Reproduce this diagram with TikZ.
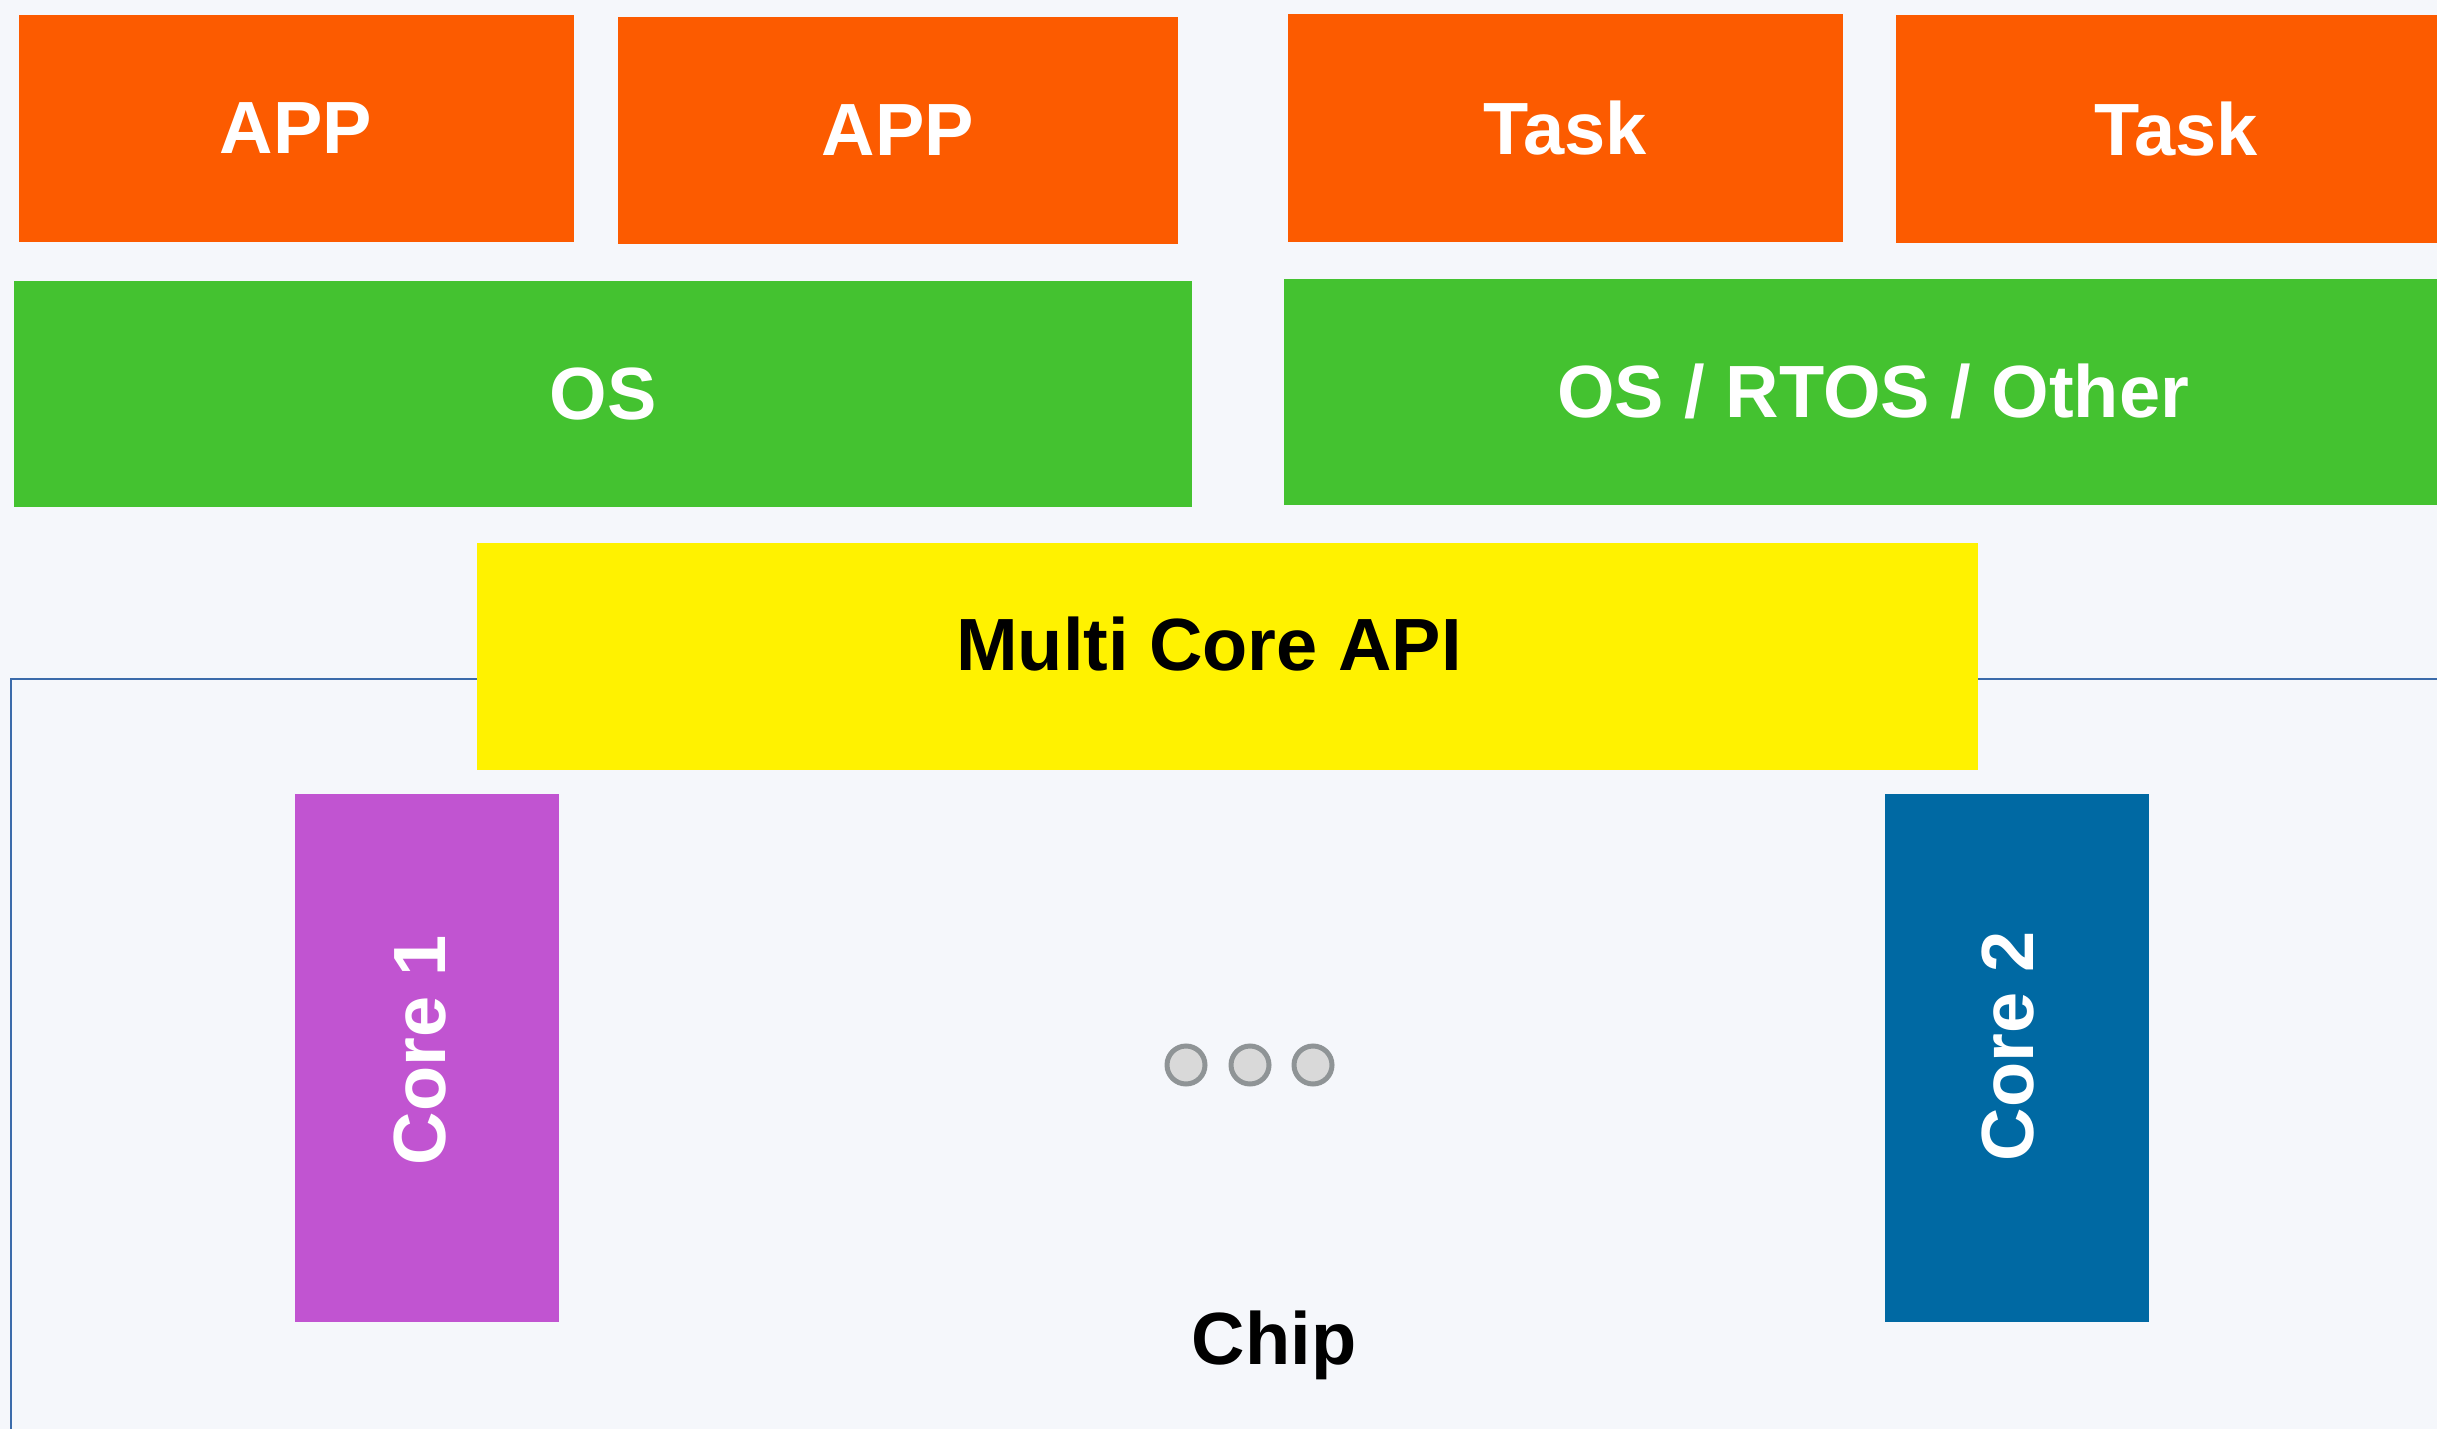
\documentclass[tikz,border=0pt]{standalone}
\usepackage{fontspec}
\setmainfont{Liberation Sans}
\definecolor{pagebg}{HTML}{F5F7FB}
\definecolor{apporange}{HTML}{FC5B00}
\definecolor{osgreen}{HTML}{44C230}
\definecolor{apiyellow}{HTML}{FFF200}
\definecolor{corepurple}{HTML}{C154D1}
\definecolor{coreblue}{HTML}{0069A3}
\definecolor{chipline}{HTML}{3B6BAA}
\definecolor{dotfill}{HTML}{D9D9D9}
\definecolor{dotline}{HTML}{8F9496}
\tikzset{
  bigtext/.style={inner sep=0pt, outer sep=0pt, font=\fontsize{37}{40}\selectfont\bfseries},
  layer/.style={bigtext, text=white},
  appbox/.style={layer, fill=apporange, minimum height=113.5pt},
  osbox/.style={layer, fill=osgreen, minimum width=589pt, minimum height=113pt},
  apibox/.style={layer, fill=apiyellow, minimum width=750.5pt, minimum height=113.5pt},
  corebox/.style={layer, minimum width=132pt, minimum height=264.3pt},
  corelabel/.style={bigtext, text=white, rotate=90},
  chipframe/.style={draw=chipline, line width=1.2pt, fill=pagebg},
  dot/.style={circle, draw=dotline, fill=dotfill, line width=2.5pt, minimum size=19pt, inner sep=0pt}
}
\begin{document}
\begin{tikzpicture}[x=0.5pt, y=-0.5pt]
  % page area and background
  \useasboundingbox (0,0) rectangle (2437,1429);
  \clip (0,0) rectangle (2437,1429);
  \fill[pagebg] (0,0) rectangle (2437,1429);

  % chip outline (runs off the right and bottom edges)
  \draw[chipframe] (11,679) rectangle (2470,1460);
  \node[bigtext] (chip) at (1274,1345) {Chip};

  % application layer
  \node[appbox, minimum width=277.5pt] (app1) at (296,128.5) {APP};
  \node[appbox, minimum width=279.7pt] (app2) at (898,130.5) {APP};
  \node[appbox, minimum width=277.5pt] (task1) at (1565.5,128) {Task};
  \node[appbox, minimum width=280pt] (task2) at (2176,129) {Task};

  % operating system layer
  \node[osbox] (os) at (603,394) {OS};
  \node[osbox] (rtos) at (1873,391.5) {OS / RTOS / Other};

  % multi core API
  \node[apibox] (api) at (1227.5,656) {};
  \node[bigtext] (apilabel) at (1209,644) {Multi Core API};

  % cores
  \node[corebox, fill=corepurple] (core1) at (427.4,1058) {};
  \node[corelabel] (core1label) at (420,1050) {Core 1};
  \node[corebox, fill=coreblue] (core2) at (2017,1058) {};
  \node[corelabel] (core2label) at (2008,1046) {Core 2};

  % ellipsis between the cores
  \node[dot] (dot1) at (1186,1065) {};
  \node[dot] (dot2) at (1250,1065) {};
  \node[dot] (dot3) at (1313,1065) {};
\end{tikzpicture}
\end{document}
